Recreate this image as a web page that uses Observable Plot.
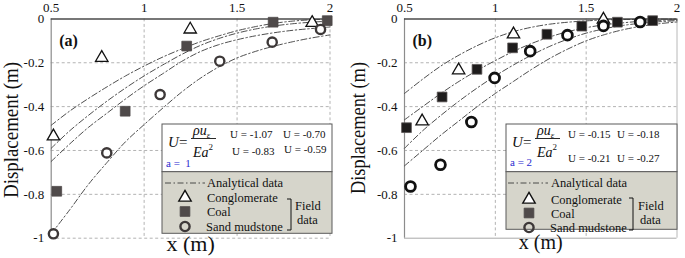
<!DOCTYPE html>
<html><head><meta charset="utf-8">
<script src="https://cdn.jsdelivr.net/npm/d3@7"></script>
<script src="https://cdn.jsdelivr.net/npm/@observablehq/plot@0.6"></script>
<style>
body{margin:0;background:#fff;}
#wrap{position:relative;width:685px;height:258px;overflow:hidden;background:#fff;}
.panel{position:absolute;top:0;}
</style></head><body>
<div id="wrap"><div id="pa" class="panel" style="left:0"></div><div id="pb" class="panel" style="left:345px"></div></div>
<script>
// ---------- axis ticks ----------
const xTicks = [0.5, 1, 1.5, 2];
const xTickLabels = ["0.5", "1", "1.5", "2"];
const yTicks = [0, -0.2, -0.4, -0.6, -0.8, -1];
const yTickLabels = ["0", "-0.2", "-0.4", "-0.6", "-0.8", "-1"];

// ---------- analytical curves ----------
const xCurve = [0.5, 0.6, 0.7, 0.8, 0.9, 1.0, 1.1, 1.2, 1.3, 1.4, 1.5, 1.6, 1.7, 1.8, 1.9, 2.0];
// panel (a), a = 1
const aCurve1 = [-0.485, -0.42, -0.363, -0.31, -0.26, -0.215, -0.174, -0.138, -0.105, -0.078, -0.054, -0.035, -0.02, -0.01, -0.004, -0.001];
const aCurve2 = [-0.59, -0.51, -0.44, -0.375, -0.315, -0.26, -0.21, -0.163, -0.122, -0.09, -0.065, -0.046, -0.032, -0.022, -0.015, -0.01];
const aCurve3 = [-0.65, -0.57, -0.495, -0.43, -0.365, -0.305, -0.25, -0.195, -0.15, -0.118, -0.095, -0.077, -0.063, -0.052, -0.044, -0.037];
const aCurve4 = [-0.98, -0.87, -0.755, -0.655, -0.56, -0.482, -0.407, -0.335, -0.272, -0.22, -0.178, -0.148, -0.124, -0.104, -0.087, -0.073];
// panel (b), a = 2
const bCurve1 = [-0.34, -0.275, -0.215, -0.165, -0.122, -0.086, -0.058, -0.038, -0.024, -0.015, -0.009, -0.005, -0.003, -0.002, -0.001, -0.001];
const bCurve2 = [-0.46, -0.40, -0.34, -0.285, -0.235, -0.19, -0.148, -0.112, -0.082, -0.058, -0.04, -0.027, -0.018, -0.011, -0.007, -0.004];
const bCurve3 = [-0.59, -0.51, -0.44, -0.375, -0.315, -0.26, -0.21, -0.165, -0.125, -0.092, -0.065, -0.045, -0.03, -0.02, -0.013, -0.008];
const bCurve4 = [-0.67, -0.60, -0.53, -0.465, -0.40, -0.34, -0.285, -0.23, -0.18, -0.137, -0.10, -0.072, -0.05, -0.034, -0.022, -0.014];

// ---------- field data ----------
const aCongX = [0.512, 0.772, 1.248, 1.904];
const aCongY = [-0.535, -0.177, -0.048, -0.018];
const aCoalX = [0.53, 0.898, 1.229, 1.694, 1.985];
const aCoalY = [-0.786, -0.421, -0.124, -0.015, -0.008];
const aSandX = [0.512, 0.799, 1.086, 1.407, 1.689, 1.949];
const aSandY = [-0.98, -0.611, -0.345, -0.193, -0.106, -0.048];

const bCongX = [0.597, 0.798, 1.10, 1.595];
const bCongY = [-0.467, -0.234, -0.07, -0.003];
const bCoalX = [0.511, 0.707, 0.899, 1.095, 1.284, 1.476, 1.672, 1.866];
const bCoalY = [-0.496, -0.356, -0.23, -0.132, -0.07, -0.033, -0.015, -0.008];
const bSandX = [0.533, 0.698, 0.868, 0.996, 1.192, 1.397, 1.595, 1.797];
const bSandY = [-0.764, -0.665, -0.47, -0.269, -0.147, -0.074, -0.032, -0.014];

// ---------- texts ----------
const panelLabels = ["(a)", "(b)"];
const yTitle = "Displacement (m)";
const xTitle = "x (m)";
const aULabels = ["U = -1.07", "U = -0.70", "U = -0.83", "U = -0.59"];
const bULabels = ["U = -0.15", "U = -0.18", "U = -0.21", "U = -0.27"];
const aParam = ["a =  1", "a = 2"];
const seriesNames = ["Conglomerate", "Coal", "Sand mudstone"];
const analyticalName = "Analytical data";
const fieldLabel = ["Field", "data"];

const serif = "'Liberation Serif', 'Times New Roman', serif";
const xMap = new Map(xTicks.map((t, i) => [t, xTickLabels[i]]));
const yMap = new Map(yTicks.map((t, i) => [t, yTickLabels[i]]));
const pts = (xs, ys) => xs.map((x, i) => ({x, y: ys[i]}));
const crv = (ys) => xCurve.map((x, i) => ({x, y: ys[i]}));
const DASH = "6,2.5,1.5,2.5";

function makePanel(cfg) {
  const gridStyle = {stroke: "#b3b3b3", strokeOpacity: 1, strokeDasharray: "3,2.5", strokeWidth: 1};
  const marks = [
    Plot.gridX(xTicks.slice(1, cfg.solidEdge ? 3 : 4), gridStyle),
    Plot.gridY(yTicks.slice(1, cfg.solidEdge ? 5 : 6), gridStyle),
  ];
  if (cfg.solidEdge) {
    marks.push(Plot.ruleX([2], {stroke: "#b8b8b8", strokeWidth: 1}));
    marks.push(Plot.ruleY([-1], {stroke: "#a8a8a8", strokeWidth: 1}));
  }
  marks.push(
    Plot.ruleX([0.5], {stroke: "#8c8c8c", strokeWidth: 1.2}),
    Plot.ruleY([0], {stroke: "#4a4a4a", strokeWidth: 1.5}),
    Plot.axisX({anchor: "top", ticks: xTicks, tickSize: 0, tickPadding: 7, tickFormat: d => xMap.get(d), fontSize: 13, fontFamily: serif}),
    Plot.axisY({anchor: "left", ticks: yTicks, tickSize: 0, tickPadding: 7, tickFormat: d => yMap.get(d), fontSize: 13, fontFamily: serif}),
    ...cfg.curves.map(c => Plot.line(crv(c), {x: "x", y: "y", curve: "catmull-rom", stroke: "#3a3a3a", strokeWidth: 0.9, strokeDasharray: DASH})),
    Plot.dot(pts(cfg.cong[0], cfg.cong[1]), {x: "x", y: "y", symbol: "triangle", r: 4.6, stroke: "#111", strokeWidth: 1.3, fill: "white"}),
    Plot.dot(pts(cfg.coal[0], cfg.coal[1]), {x: "x", y: "y", symbol: "square", r: 5.5, fill: cfg.coalFill, stroke: cfg.coalStroke, strokeWidth: 0.8}),
    Plot.dot(pts(cfg.sand[0], cfg.sand[1]), {x: "x", y: "y", symbol: "circle", r: cfg.sandR, stroke: cfg.sandStroke, strokeWidth: cfg.sandSW, fill: "white"}),
    Plot.text([cfg.label], {text: d => d, frameAnchor: "top-left", dx: 8, dy: 16, textAnchor: "start", fontWeight: "bold", fontSize: 16, fontFamily: serif}),
    Plot.text([xTitle], {text: d => d, frameAnchor: "bottom", lineAnchor: "middle", dy: cfg.xTitleDy, fontSize: cfg.xTitleSize, fontFamily: serif})
  );
  const svg = Plot.plot({
    width: 340, height: 258,
    marginLeft: cfg.ml, marginRight: cfg.mr, marginTop: 18.4, marginBottom: 20.3,
    x: {domain: [0.5, 2], label: null},
    y: {domain: [-1, 0], label: null},
    style: {fontFamily: serif, fontSize: "13px", background: "transparent", overflow: "visible", color: "#111"},
    marks
  });
  document.getElementById(cfg.el).appendChild(svg);
  const s = d3.select(svg);
  // y title
  s.append("text").attr("transform", `translate(${cfg.yTitleX},${cfg.yTitleY}) rotate(-90)`)
    .attr("text-anchor", "middle").attr("dominant-baseline", "central")
    .attr("font-family", serif).attr("font-size", cfg.yTitleSize).attr("fill", "#111")
    .attr("textLength", cfg.yTitleLen).attr("lengthAdjust", "spacingAndGlyphs").text(yTitle);
  drawLegend(s, cfg.L, cfg);
}

function sym(type, r) { return d3.symbol(type, Math.PI * r * r)(); }

function drawLegend(s, L, cfg) {
  const g = s.append("g").attr("font-family", serif).attr("fill", "#111").attr("text-anchor", "start");
  g.append("rect").attr("x", L.x0).attr("y", L.y0).attr("width", L.x1 - L.x0).attr("height", L.yd - L.y0)
    .attr("fill", "#fff").attr("stroke", "#5a5a5a").attr("stroke-width", 1);
  g.append("rect").attr("x", L.x0).attr("y", L.yd).attr("width", L.x1 - L.x0).attr("height", L.y1 - L.yd)
    .attr("fill", "#d6d5cb").attr("stroke", "#5a5a5a").attr("stroke-width", 1);
  // formula U = rho u_eps / (E a^2)
  const f = g.append("g").attr("font-style", "italic");
  f.append("text").attr("x", L.fx).attr("y", 146.5).attr("font-size", 15).text("U");
  f.append("text").attr("x", L.fx + 11).attr("y", 146.5).attr("font-size", 15).attr("font-style", "normal").text("=");
  const num = f.append("text").attr("x", L.fx + 25).attr("y", 135).attr("font-size", 14);
  num.append("tspan").text("ρu");
  num.append("tspan").attr("font-size", 9).attr("dy", 3).text("ε");
  f.append("line").attr("x1", L.fx + 23).attr("x2", L.fx + 48).attr("y1", 138.5).attr("y2", 138.5).attr("stroke", "#111").attr("stroke-width", 0.9);
  const den = f.append("text").attr("x", L.fx + 25).attr("y", 156.5).attr("font-size", 14);
  den.append("tspan").text("Ea");
  den.append("tspan").attr("font-size", 9).attr("font-style", "normal").attr("dy", -7).text("2");
  // U values
  L.uPos.forEach((p, i) => g.append("text").attr("x", p[0]).attr("y", p[1]).attr("font-size", 11).text(cfg.uLabels[i]));
  g.append("text").attr("x", L.ax).attr("y", L.ay).attr("font-size", 11).attr("fill", "#2b2bd0").attr("xml:space", "preserve").text(cfg.param);
  // lower part
  g.append("line").attr("x1", L.lx).attr("x2", L.lx + 40).attr("y1", 183).attr("y2", 183)
    .attr("stroke", "#3a3a3a").attr("stroke-width", 0.9).attr("stroke-dasharray", DASH);
  g.append("text").attr("x", L.tx).attr("y", 187).attr("font-size", 12.5).text(analyticalName);
  const sx = L.sx;
  g.append("path").attr("d", sym(d3.symbolTriangle, 4.6)).attr("transform", `translate(${sx},${L.sy[0]})`)
    .attr("fill", "#fff").attr("stroke", "#111").attr("stroke-width", 1.4);
  g.append("path").attr("d", sym(d3.symbolSquare, 5.5)).attr("transform", `translate(${sx},${L.sy[1]})`)
    .attr("fill", "#4f4a4a").attr("stroke", "#4f4a4a").attr("stroke-width", 0.8);
  g.append("path").attr("d", sym(d3.symbolCircle, 4.6)).attr("transform", `translate(${sx},${L.sy[2]})`)
    .attr("fill", "none").attr("stroke", "#3d3838").attr("stroke-width", 2.4);
  seriesNames.forEach((n, i) => g.append("text").attr("x", L.tx - (i === 2 ? 1 : 0)).attr("y", L.sy[i] + 4.5).attr("font-size", 12.5).text(n));
  g.append("path").attr("d", `M${L.bx - 4},${L.by0} H${L.bx} V${L.by1} H${L.bx - 4}`).attr("fill", "none").attr("stroke", "#111").attr("stroke-width", 1);
  g.append("text").attr("x", L.fdx).attr("y", 209.5).attr("font-size", 12.5).text(fieldLabel[0]);
  g.append("text").attr("x", L.fdx + 2).attr("y", 224).attr("font-size", 12.5).text(fieldLabel[1]);
}

makePanel({
  el: "pa", ml: 50.7, mr: 10.5, label: panelLabels[0],
  curves: [aCurve1, aCurve2, aCurve3, aCurve4],
  cong: [aCongX, aCongY], coal: [aCoalX, aCoalY], sand: [aSandX, aSandY],
  coalFill: "#4f4a4a", coalStroke: "#4f4a4a", sandStroke: "#3d3838", sandSW: 2.4, sandR: 4.6,
  xTitleSize: 22, xTitleDy: 6, yTitleSize: 20, yTitleLen: 136, yTitleX: 11, yTitleY: 130,
  uLabels: aULabels, param: aParam[0], solidEdge: false,
  L: {x0: 162, x1: 332, y0: 124, yd: 171.7, y1: 233.3, fx: 168,
      uPos: [[230, 137.5], [283, 137.5], [232, 154.5], [284, 153]], ax: 166, ay: 167,
      lx: 165, tx: 207, sx: 185, sy: [197.5, 211.5, 226.5], bx: 291, by0: 199, by1: 230, fdx: 295}
});
makePanel({
  el: "pb", ml: 59, mr: 8.5, label: panelLabels[1],
  curves: [bCurve1, bCurve2, bCurve3, bCurve4],
  cong: [bCongX, bCongY], coal: [bCoalX, bCoalY], sand: [bSandX, bSandY],
  coalFill: "#1e1c1c", coalStroke: "#5a5555", sandStroke: "#111", sandSW: 2.8, sandR: 4.9,
  xTitleSize: 20, xTitleDy: 4, yTitleSize: 20, yTitleLen: 132, yTitleX: 13, yTitleY: 128,
  uLabels: bULabels, param: aParam[1], solidEdge: true,
  L: {x0: 161, x1: 332, y0: 124, yd: 171.7, y1: 229.3, fx: 167,
      uPos: [[223, 137.5], [272, 137.5], [223, 161.5], [272, 161.5]], ax: 165, ay: 166,
      lx: 163, tx: 206, sx: 184, sy: [199.5, 213, 227.5], bx: 288, by0: 198, by1: 230, fdx: 293}
});
</script>
</body></html>
